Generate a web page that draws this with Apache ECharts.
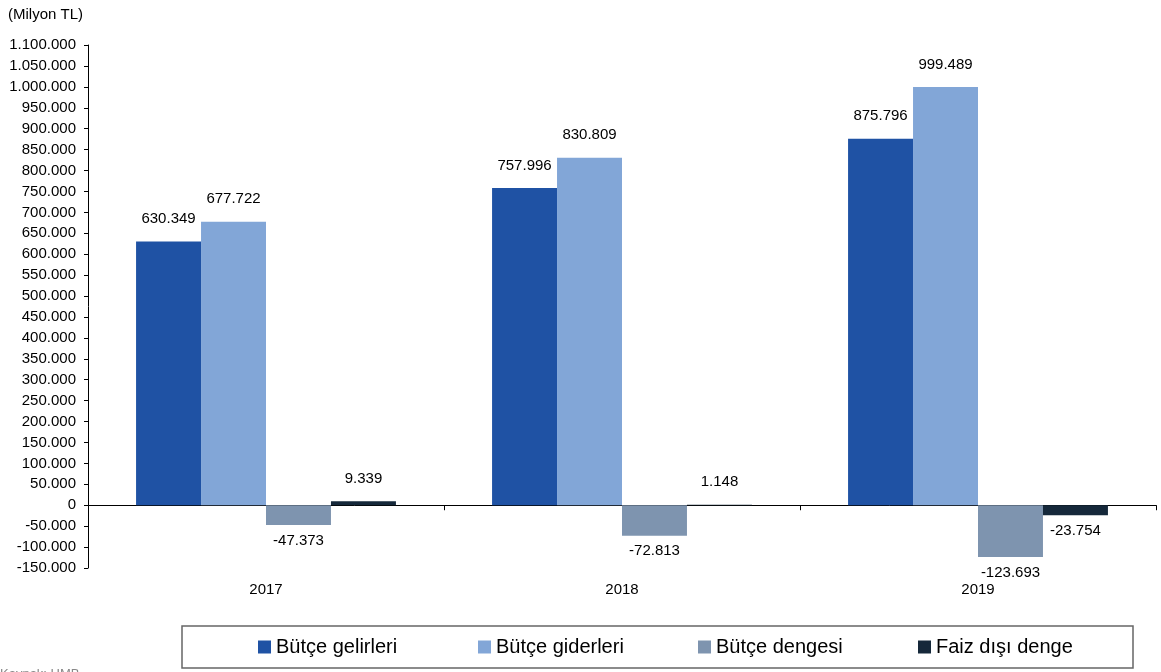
<!DOCTYPE html>
<html>
<head>
<meta charset="utf-8">
<script src="https://cdn.jsdelivr.net/npm/echarts@6/dist/echarts.min.js"></script>
<style>html,body{margin:0;padding:0;background:#fff}#c{width:1161px;height:672px}</style>
</head>
<body>
<div id="c"></div>
<script>
const years = ['2017', '2018', '2019'];
const seriesNames = ['Bütçe gelirleri', 'Bütçe giderleri', 'Bütçe dengesi', 'Faiz dışı denge'];
const butceGelirleri = [630349, 757996, 875796];
const butceGiderleri = [677722, 830809, 999489];
const butceDengesi = [-47373, -72813, -123693];
const faizDisiDenge = [9339, 1148, -23754];
const unitLabel = '(Milyon TL)';
const sourceLabel = 'Kaynak: HMB';
const colors = ['#1F52A4', '#82A6D7', '#7E94AF', '#15283A'];

function fmt(v) {
  const s = Math.abs(Math.round(v)).toString().replace(/\B(?=(\d{3})+(?!\d))/g, '.');
  return (v < 0 ? '-' : '') + s;
}
const font = 'Liberation Sans, Arial, sans-serif';
const allData = [butceGelirleri, butceGiderleri, butceDengesi, faizDisiDenge];

const series = allData.map((arr, i) => ({
  name: seriesNames[i],
  type: 'bar',
  xAxisIndex: 0,
  barGap: '0%',
  barCategoryGap: '27%',
  itemStyle: { color: colors[i] },
  data: arr.map(v => ({
    value: v,
    label: v < 0 ? { position: 'bottom', distance: 8 } : { position: 'top', distance: 15 }
  })),
  label: {
    show: true,
    color: '#000',
    fontSize: 15,
    fontFamily: font,
    formatter: p => fmt(p.value)
  }
}));

const chart = echarts.init(document.getElementById('c'), null, { renderer: 'canvas' });
chart.setOption({
  animation: false,
  backgroundColor: '#fff',
  textStyle: { fontFamily: font },
  grid: { left: 88, right: 5, top: 45, bottom: 104, containLabel: false },
  title: {
    text: unitLabel, left: 3, top: 2,
    textStyle: { fontSize: 15, fontWeight: 'normal', color: '#000', fontFamily: font }
  },
  legend: {
    data: seriesNames,
    left: 258, top: 637, padding: 0,
    itemWidth: 13, itemHeight: 13, itemGap: 0,
    icon: 'rect',
    textStyle: { fontSize: 20, color: '#000', fontFamily: font, width: 202, lineHeight: 20 }
  },
  xAxis: [
    {
      type: 'category', data: years, position: 'bottom',
      axisLine: { show: false, onZero: false },
      axisTick: { show: false },
      axisLabel: { fontSize: 15, color: '#000', margin: 14, fontFamily: font },
      splitLine: { show: false }
    },
    {
      type: 'category', data: years, position: 'bottom',
      axisLine: { show: true, onZero: true, lineStyle: { color: '#000', width: 1 } },
      axisTick: { show: true, length: 5, interval: 0, lineStyle: { color: '#000' } },
      axisLabel: { show: false },
      splitLine: { show: false }
    }
  ],
  yAxis: {
    type: 'value', min: -150000, max: 1100000, interval: 50000,
    axisLine: { show: true, lineStyle: { color: '#000', width: 1 } },
    axisTick: { show: true, length: 4, lineStyle: { color: '#000' } },
    splitLine: { show: false },
    axisLabel: { fontSize: 15, color: '#000', margin: 12, fontFamily: font, formatter: v => fmt(v) }
  },
  graphic: [
    { type: 'rect', shape: { x: 182, y: 626, width: 951, height: 42 }, style: { fill: 'none', stroke: '#666', lineWidth: 1.5 } },
    { type: 'text', left: 0, top: 668, style: { text: sourceLabel, fontSize: 13, fill: '#888', fontFamily: font } }
  ],
  series: series
});
</script>
</body>
</html>
